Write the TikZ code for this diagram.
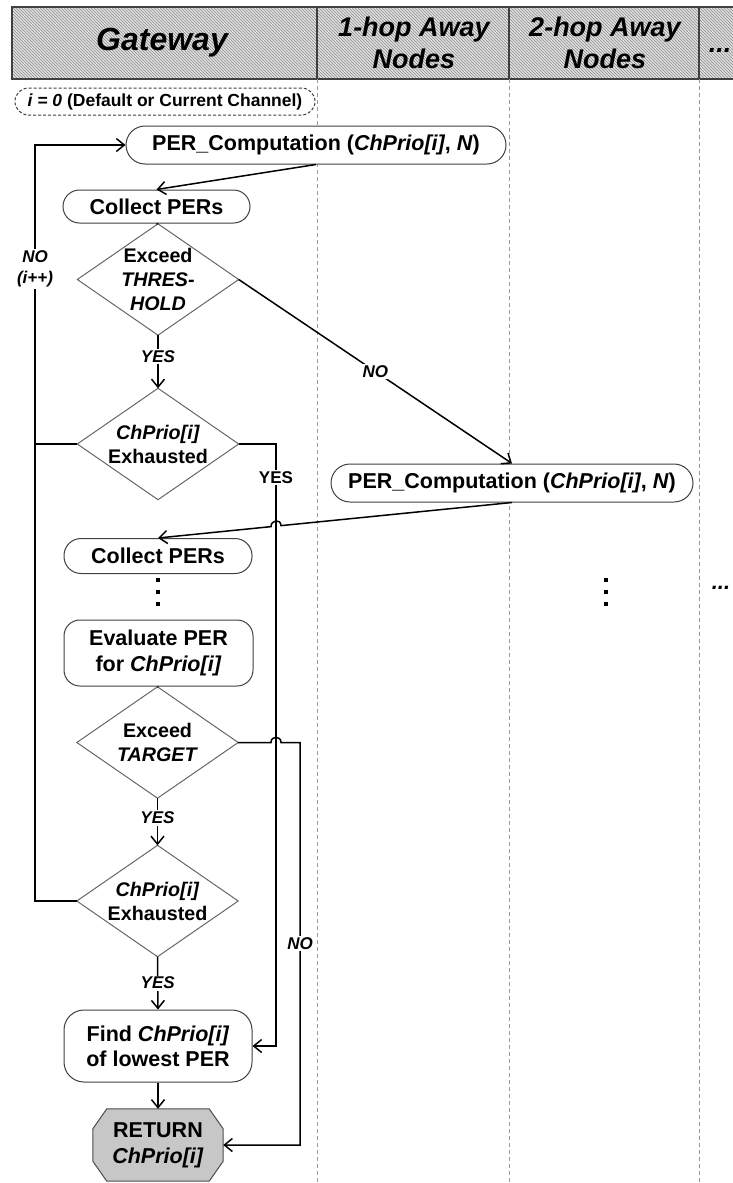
\documentclass[tikz,border=0pt]{standalone}
\usepackage{fontspec}
\setmainfont{Liberation Sans}
\usetikzlibrary{arrows.meta,patterns,calc}
\pgfdeclarelayer{bg}
\pgfsetlayers{bg,main}
\begin{document}
\begin{tikzpicture}[x=1pt,y=-1pt,
  conn/.style={line width=1.5pt,draw=black},
  arr/.style={conn,-{Straight Barb[length=8pt,width=13pt]}},
  box/.style={draw=black!75,line width=1pt,fill=white,inner sep=0pt,align=center,font=\fontsize{21.5}{26}\selectfont\bfseries},
  dia/.style={rectangle,inner sep=0pt,minimum width=161pt,minimum height=111pt,align=center,font=\fontsize{19.7}{24}\selectfont\bfseries},
  diaedge/.style={draw=black!60,line width=1pt},
  lbl/.style={fill=white,inner sep=1.5pt,align=center,font=\fontsize{17}{21}\selectfont\bfseries\itshape},
  lblup/.style={fill=white,inner sep=1.5pt,font=\fontsize{17}{21}\selectfont\bfseries},
  hdr/.style={align=center,inner sep=0pt,font=\fontsize{27}{32}\selectfont\bfseries\itshape},
  colline/.style={draw=black!40,line width=1pt,dash pattern=on 4pt off 3pt}
]
\useasboundingbox (0,0) rectangle (733,1183);
\clip (0,0) rectangle (733,1183);

% header band
\fill[black!12] (12,7) rectangle (760,79);
\fill[pattern=north west lines,pattern color=black!45] (12,7) rectangle (760,79);
\draw[black!75,line width=1.2pt] (12,7) rectangle (760,79);
\draw[black!75,line width=1.2pt] (317,7) -- (317,79) (509,7) -- (509,79) (699,7) -- (699,79);
\node[hdr,font=\fontsize{32}{36}\selectfont\bfseries\itshape] (hgw) at (162,43) {Gateway};
\node[hdr] (h1) at (414,43) {1-hop Away\\Nodes};
\node[hdr] (h2) at (605,43) {2-hop Away\\Nodes};
\node[hdr] (h3) at (720,50) {...};

% lane lines
\draw[colline] (317,79) -- (317,1183);
\draw[colline] (509,79) -- (509,1183);
\draw[colline] (699,79) -- (699,1183);

% nodes
\node[box,dash pattern=on 3pt off 2pt,rounded corners=13.5pt,minimum width=300pt,minimum height=27pt,font=\fontsize{17.5}{20}\selectfont\bfseries] (init) at (165,101.5) {\textit{i = 0} (Default or Current Channel)};
\node[box,rounded corners=19pt,minimum width=380pt,minimum height=38pt] (P1) at (316,145) {PER\_Computation (\textit{ChPrio[i]}, \textit{N})};
\node[box,rounded corners=16.5pt,minimum width=187pt,minimum height=33pt] (C1) at (156.5,206.5) {Collect PERs};
\node[dia] (D1) at (158,279.5) {Exceed\\\textit{THRES-}\\\textit{HOLD}};
\node[dia] (D2) at (158,444) {\textit{ChPrio[i]}\\Exhausted};
\node[box,rounded corners=19pt,minimum width=362pt,minimum height=38pt] (P2) at (512,483) {PER\_Computation (\textit{ChPrio[i]}, \textit{N})};
\node[box,rounded corners=17pt,minimum width=188pt,minimum height=35pt] (C2) at (158,556) {Collect PERs};
\node[box,rounded corners=16pt,minimum width=189pt,minimum height=66pt] (EV) at (158.5,653) {Evaluate PER\\for \textit{ChPrio[i]}};
\node[dia] (D3) at (157.5,742.5) {Exceed\\\textit{TARGET}};
\node[dia] (D4) at (157.5,901) {\textit{ChPrio[i]}\\Exhausted};
\node[box,rounded corners=20pt,minimum width=188pt,minimum height=72pt,font=\fontsize{21.5}{25}\selectfont\bfseries] (FD) at (158,1046) {Find \textit{ChPrio[i]}\\of lowest PER};
\node[inner sep=0pt,minimum width=130pt,minimum height=72pt,align=center,font=\fontsize{21.5}{26}\selectfont\bfseries] (RET) at (158,1145) {RETURN\\\textit{ChPrio[i]}};
\node[hdr,font=\fontsize{22}{26}\selectfont\bfseries\itshape] (more) at (721,588) {...};

% diamond outlines
\foreach \d in {D1,D2,D3,D4}
  \draw[diaedge] (\d.north) -- (\d.east) -- (\d.south) -- (\d.west) -- cycle;

% octagon
\begin{pgfonlayer}{bg}
\draw[fill=black!22,draw=black!70,line width=1pt]
  ($(RET.north west)+(14,0)$) -- ($(RET.north east)+(-14,0)$) -- ($(RET.north east)+(0,20)$)
  -- ($(RET.south east)+(0,-20)$) -- ($(RET.south east)+(-14,0)$) -- ($(RET.south west)+(14,0)$)
  -- ($(RET.south west)+(0,-20)$) -- ($(RET.north west)+(0,20)$) -- cycle;
\end{pgfonlayer}

% vertical ellipsis dots
\foreach \yy in {580,592,604} {
  \fill (156,{\yy-2}) rectangle (160,{\yy+2});
  \fill (604,{\yy-2}) rectangle (608,{\yy+2});
}

% helper coordinates
\coordinate (lx) at (35,145);
\coordinate (ry) at (276,444);
\coordinate (ry2) at (276,1046);
\coordinate (nx) at (300,742.5);

% connectors
\draw[arr] (P1.south) -- (C1.north);
\draw[conn] (C1.south) -- (D1.north);
\draw[arr] (D1.south) -- node[lbl,pos=0.4]{YES} (D2.north);
\draw[arr] (D1.east) -- node[lbl]{NO} (P2.north);
\draw[conn] (D2.west) -- (D2.west -| lx);
\draw[arr] (D4.west) -- (D4.west -| lx) -- node[lbl,pos=0.836]{NO\\(i++)} (lx) -- (P1.west);
\draw[arr] (D2.east) -- (ry) -- node[lblup,pos=0.056]{YES} (ry2) -- (FD.east);

\coordinate (hx) at (intersection of P2.south--C2.north and ry--ry2);
\coordinate (hp1) at ($(hx)!5pt!(P2.south)$);
\coordinate (hp2) at ($(hx)!5pt!(C2.north)$);
\draw[arr] (P2.south) -- (hp1) .. controls ($(hp1)+(0,-7)$) and ($(hp2)+(0,-7)$) .. (hp2) -- (C2.north);

\draw[conn] (EV.south) -- (D3.north);
\draw[arr] (D3.south) -- node[lbl,pos=0.42]{YES} (D4.north);
\coordinate (hy) at (ry |- D3.east);
\coordinate (hq1) at ($(hy)+(-5,0)$);
\coordinate (hq2) at ($(hy)+(5,0)$);
\draw[arr] (D3.east) -- (hq1) .. controls ($(hq1)+(0,-7)$) and ($(hq2)+(0,-7)$) .. (hq2) -- (nx) -- node[lbl]{NO} (nx |- RET.east) -- (RET.east);
\draw[arr] (D4.south) -- node[lbl]{YES} (FD.north);
\draw[arr] (FD.south) -- (RET.north);
\end{tikzpicture}
\end{document}
